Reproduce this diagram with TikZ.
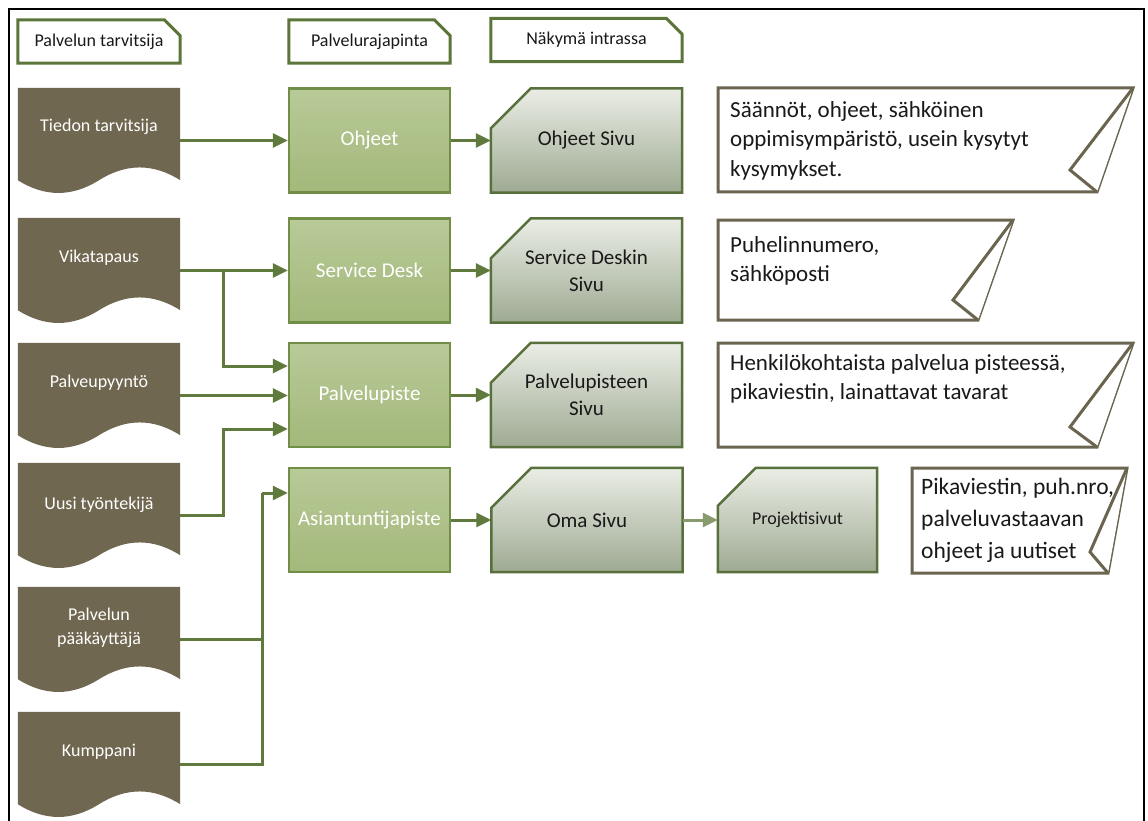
\documentclass[tikz,border=0pt]{standalone}
\usepackage{fontspec}
\setmainfont{Carlito}
\usetikzlibrary{arrows.meta,calc}
\definecolor{docfill}{RGB}{111,103,80}
\definecolor{boxtop}{RGB}{184,202,152}
\definecolor{boxbot}{RGB}{163,184,122}
\definecolor{boxedge}{RGB}{112,142,70}
\definecolor{pagetop}{RGB}{234,237,229}
\definecolor{pagebot}{RGB}{158,170,146}
\definecolor{pageedge}{RGB}{88,112,60}
\definecolor{arrowc}{RGB}{96,122,62}
\definecolor{tabedge}{RGB}{92,117,58}
\definecolor{noteedge}{RGB}{107,101,80}
\definecolor{txt}{RGB}{25,25,25}
\newcommand\DocShape[1]{%
  \fill[docfill] (#1.north west) -- (#1.north east) -- ([yshift=13pt]#1.south east)
    .. controls ([xshift=-27pt,yshift=30pt]#1.south east) and ([xshift=-54pt,yshift=30pt]#1.south east) .. ([yshift=13pt]#1.south)
    .. controls ([xshift=-27pt,yshift=-4pt]#1.south) and ([xshift=27pt,yshift=-4pt]#1.south west) .. ([yshift=13pt]#1.south west) -- cycle;}
\newcommand\PageShape[2]{%
  \draw[pageedge,line width=2.5pt,top color=pagetop,bottom color=pagebot]
    ([xshift=#2]#1.north west) -- (#1.north east) -- (#1.south east) -- (#1.south west) -- ([yshift=-#2]#1.north west) -- cycle;}
\newcommand\TabShape[1]{%
  \draw[tabedge,line width=3pt,fill=white]
    (#1.north west) -- ([xshift=-16pt]#1.north east) -- ([yshift=-16pt]#1.north east) -- (#1.south east) -- (#1.south west) -- cycle;}
\begin{document}
\begin{tikzpicture}[x=1pt,y=-1pt,
  docnode/.style={minimum width=162pt,minimum height=105pt,inner sep=0pt},
  doctext/.style={text=white,font=\fontsize{18}{24}\selectfont,align=center,inner sep=0pt},
  boxnode/.style={draw=boxedge,line width=2.5pt,top color=boxtop,bottom color=boxbot,
    minimum width=161pt,minimum height=104pt,inner sep=0pt,text=white,
    font=\fontsize{21}{26}\selectfont,align=center},
  pagenode/.style={minimum width=191pt,minimum height=104pt,inner sep=0pt,text=txt,
    font=\fontsize{21}{27}\selectfont,align=center},
  tabnode/.style={minimum width=162pt,minimum height=43pt,inner sep=0pt,text=txt,
    font=\fontsize{18}{22}\selectfont},
  notetext/.style={anchor=north west,inner sep=0pt,text=txt,align=left,
    font=\fontsize{23}{29.5}\selectfont},
  note/.style={draw=noteedge,line width=3pt,fill=white,line join=miter},
  arr/.style={draw=arrowc,line width=3pt,-{Triangle[length=15pt,width=14pt]}},
  conn/.style={draw=arrowc,line width=3pt}]
\useasboundingbox (0,0) rectangle (1148,821);
\fill[white] (0,0) rectangle (1148,821);
% frame
\draw[line width=1.5pt] (9,830) -- (9,9) -- (1144,9) -- (1144,830);

% header tabs
\path (99,41.5) node[tabnode] (t1) {};
\path (369.5,41.5) node[tabnode,minimum width=161pt] (t2) {};
\path (586.5,40) node[tabnode,minimum width=191pt] (t3) {};
\TabShape{t1}\TabShape{t2}\TabShape{t3}
\node[tabnode] at (t1) {Palvelun tarvitsija};
\node[tabnode,minimum width=161pt] at (t2) {Palvelurajapinta};
\node[tabnode,minimum width=191pt] at (t3) {Näkymä intrassa};

% documents (service users)
\node[docnode] (d1) at (99,140.5) {};
\node[docnode] (d2) at (99,270.5) {};
\node[docnode] (d3) at (99,395.5) {};
\node[docnode] (d4) at (99,515.5) {};
\node[docnode] (d5) at (99,639.5) {};
\node[docnode] (d6) at (99,764.5) {};
\DocShape{d1}\DocShape{d2}\DocShape{d3}\DocShape{d4}\DocShape{d5}\DocShape{d6}
\node[doctext] (d1t) at (99,127) {Tiedon tarvitsija};
\node[doctext] (d2t) at (99,258) {Vikatapaus};
\node[doctext] (d3t) at (99,383) {Palveupyyntö};
\node[doctext] (d4t) at (99,505) {Uusi työntekijä};
\node[doctext] (d5t) at (99,628) {Palvelun\\pääkäyttäjä};
\node[doctext] (d6t) at (99,752) {Kumppani};

% service interfaces
\node[boxnode] (b1) at (369.5,140.5) {Ohjeet};
\node[boxnode] (b2) at (369.5,270.5) {Service Desk};
\node[boxnode] (b3) at (369.5,395) {Palvelupiste};
\node[boxnode] (b4) at (369.5,520) {Asiantuntijapiste};

% intranet pages
\node[pagenode] (p1) at (586.5,140.5) {};
\node[pagenode] (p2) at (586.5,270.5) {};
\node[pagenode] (p3) at (586.5,395) {};
\node[pagenode] (p4) at (587,520) {};
\node[pagenode,minimum width=159pt] (p5) at (797.5,520) {};
\PageShape{p1}{40pt}\PageShape{p2}{40pt}\PageShape{p3}{40pt}\PageShape{p4}{40pt}\PageShape{p5}{38pt}
\node[pagenode] at (p1) {Ohjeet Sivu};
\node[pagenode] at (p2) {Service Deskin\\Sivu};
\node[pagenode] at (p3) {Palvelupisteen\\Sivu};
\node[pagenode] at (p4) {Oma Sivu};
\node[pagenode,minimum width=159pt,font=\fontsize{18}{22}\selectfont] at (p5) {Projektisivut};

% notes
\draw[note] (718,88) -- (1133,88) -- (1097,192) -- (718,192) -- cycle;
\draw[note] (1133,88) -- (1070,170) -- (1097,192);
\node[notetext] (n1) at (730,96.35) {\strut Säännöt, ohjeet, sähköinen\\oppimisympäristö, usein kysytyt\\kysymykset.};
\draw[note] (718,220) -- (1013,220) -- (978,320) -- (718,320) -- cycle;
\draw[note] (1013,220) -- (953,300) -- (978,320);
\node[notetext] (n2) at (730,231.35) {\strut Puhelinnumero,\\sähköposti};
\draw[note] (718,343) -- (1133,343) -- (1097,447) -- (718,447) -- cycle;
\draw[note] (1133,343) -- (1070,427) -- (1097,447);
\node[notetext] (n3) at (730,349.35) {\strut Henkilökohtaista palvelua pisteessä,\\pikaviestin, lainattavat tavarat};
\draw[note] (912,468) -- (1127,468) -- (1108,573) -- (912,573) -- cycle;
\draw[note] (1127,468) -- (1090,552) -- (1108,573);
\node[notetext,font=\fontsize{23.5}{32}\selectfont] (n4) at (921,471.6) {\strut Pikaviestin, puh.nro,\\palveluvastaavan\\ohjeet ja uutiset};

% connectors
\coordinate (j1) at (223,270.5);
\coordinate (j2) at (223,429);
\coordinate (j3) at (262,493);
\draw[arr] (d1.east) -- (b1.west);
\draw[arr] (d2.east) -- (b2.west);
\draw[arr] (j1) |- ([yshift=29pt]b3.west);
\draw[arr] (d3.east) -- (d3.east -| b3.west);
\draw[arr] (d4.east) -| (j2) -- (j2 -| b3.west);
\draw[conn] (d6.east) -| (j3);
\draw[conn] (d5.east) -- (d5.east -| j3);
\draw[arr] (j3) -- (j3 -| b4.west);
\draw[arr] (b1.east) -- (p1.west);
\draw[arr] (b2.east) -- (p2.west);
\draw[arr] (b3.east) -- (p3.west);
\draw[arr] (b4.east) -- (p4.west);
\draw[arr,draw=arrowc!75] (p4.east) -- (p5.west);
\end{tikzpicture}
\end{document}
